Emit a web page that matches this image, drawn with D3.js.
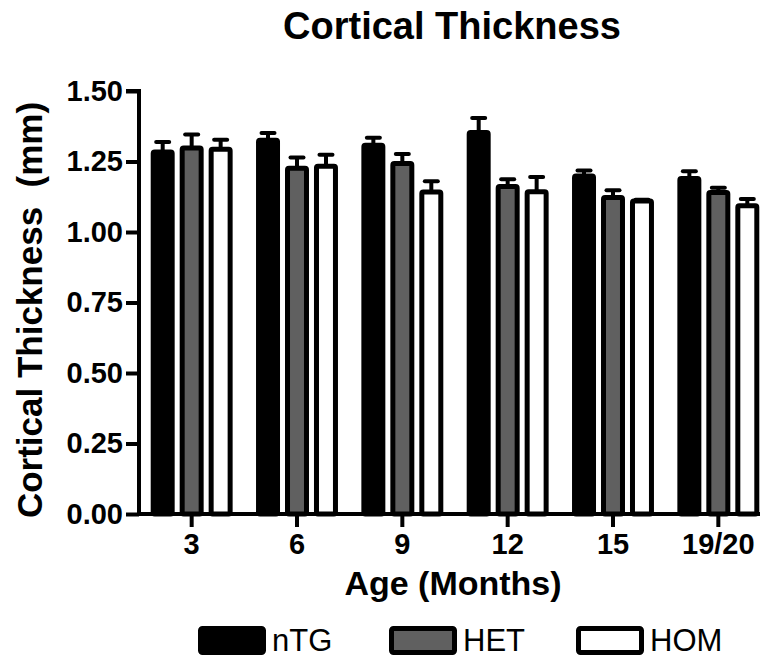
<!DOCTYPE html>
<html>
<head>
<meta charset="utf-8">
<script src="https://cdn.jsdelivr.net/npm/d3@7"></script>
<style>
  body { margin: 0; background: #fff; }
  svg { display: block; font-family: "Liberation Sans", Arial, sans-serif; }
</style>
</head>
<body>
<div id="chart"></div>
<script>
const ages = ["3", "6", "9", "12", "15", "19/20"];
const groups = ["nTG", "HET", "HOM"];
const nTG = [1.284, 1.325, 1.308, 1.353, 1.199, 1.19];
const HET = [1.298, 1.226, 1.243, 1.161, 1.122, 1.14];
const HOM = [1.293, 1.233, 1.142, 1.143, 1.11, 1.093];
const nTGErr = [0.035, 0.026, 0.026, 0.051, 0.019, 0.025];
const HETErr = [0.048, 0.038, 0.034, 0.026, 0.026, 0.017];
const HOMErr = [0.034, 0.041, 0.038, 0.052, 0.004, 0.024];
const yTicks = [0, 0.25, 0.5, 0.75, 1.0, 1.25, 1.5];

const values = { nTG: nTG, HET: HET, HOM: HOM };
const errors = { nTG: nTGErr, HET: HETErr, HOM: HOMErr };
const fills = { nTG: "#000", HET: "#606060", HOM: "#fff" };

const width = 760, height = 660;

const svg = d3.select("#chart")
  .append("svg")
  .attr("width", width)
  .attr("height", height);

const x0 = d3.scaleBand().domain(ages).range([139, 771]);
const x1 = d3.scaleBand()
  .domain(groups)
  .range([0, x0.bandwidth()])
  .paddingInner(0.345)
  .paddingOuter(0.49);

const y = d3.scaleLinear().domain([0, 1.5]).range([514, 91]);

// bars
const rows = [];
ages.forEach((a, i) => {
  groups.forEach((g) => {
    rows.push({ age: a, group: g, val: values[g][i], err: errors[g][i] });
  });
});

svg.selectAll(".bar")
  .data(rows)
  .enter()
  .append("rect")
  .attr("class", "bar")
  .attr("x", (d) => x0(d.age) + x1(d.group))
  .attr("y", (d) => y(d.val))
  .attr("width", x1.bandwidth())
  .attr("height", (d) => y(0) - y(d.val))
  .attr("rx", 1.5)
  .style("fill", (d) => fills[d.group])
  .style("stroke", "#000")
  .style("stroke-width", 5);

// error bars
const err = svg.selectAll(".err")
  .data(rows)
  .enter()
  .append("g")
  .attr("class", "err")
  .style("stroke", "#000")
  .style("stroke-width", 4);

err.append("line")
  .attr("x1", (d) => x0(d.age) + x1(d.group) + x1.bandwidth() / 2)
  .attr("x2", (d) => x0(d.age) + x1(d.group) + x1.bandwidth() / 2)
  .attr("y1", (d) => y(d.val))
  .attr("y2", (d) => y(d.val + d.err));

err.append("line")
  .attr("x1", (d) => x0(d.age) + x1(d.group) + x1.bandwidth() / 2 - 6.5)
  .attr("x2", (d) => x0(d.age) + x1(d.group) + x1.bandwidth() / 2 + 6.5)
  .attr("y1", (d) => y(d.val + d.err))
  .attr("y2", (d) => y(d.val + d.err))
  .style("stroke-linecap", "round");

// axes
const yAxis = svg.append("g")
  .attr("transform", "translate(139,0)")
  .call(d3.axisLeft(y).tickValues(yTicks).tickFormat(d3.format(".2f")).tickSize(13).tickPadding(3));

const xAxis = svg.append("g")
  .attr("transform", "translate(0,514)")
  .call(d3.axisBottom(x0).tickSize(13).tickPadding(6).tickSizeOuter(0));

[yAxis, xAxis].forEach((ax) => {
  ax.select(".domain").style("stroke", "#000").style("stroke-width", 4);
  ax.selectAll(".tick line").style("stroke", "#000").style("stroke-width", 4);
  ax.selectAll(".tick text")
    .style("font-family", "'Liberation Sans', Arial, sans-serif")
    .style("font-size", "29px")
    .style("font-weight", "bold")
    .style("fill", "#000");
});
yAxis.select(".domain").attr("d", "M-13,91H0V514");
xAxis.select(".domain").attr("d", "M137,0H771");

// titles
svg.append("text")
  .attr("x", 452)
  .attr("y", 39)
  .attr("text-anchor", "middle")
  .style("font-size", "38px")
  .style("font-weight", "bold")
  .text("Cortical Thickness");

svg.append("text")
  .attr("transform", "translate(42,310) rotate(-90)")
  .attr("text-anchor", "middle")
  .style("font-size", "35px")
  .style("font-weight", "bold")
  .style("white-space", "pre")
  .text("Cortical Thickness\u00a0 (mm)");

svg.append("text")
  .attr("x", 453)
  .attr("y", 595)
  .attr("text-anchor", "middle")
  .style("font-size", "34px")
  .style("font-weight", "bold")
  .text("Age (Months)");

// legend
const legendX = [198, 389, 576];
const legend = svg.selectAll(".legend")
  .data(groups)
  .enter()
  .append("g")
  .attr("class", "legend")
  .attr("transform", (d, i) => `translate(${legendX[i]},626)`);

legend.append("rect")
  .attr("x", 2.5)
  .attr("y", 2.5)
  .attr("width", 63)
  .attr("height", 24)
  .attr("rx", 2)
  .style("fill", (d) => fills[d])
  .style("stroke", "#000")
  .style("stroke-width", 5);

legend.append("text")
  .attr("x", 74)
  .attr("y", 25)
  .style("font-size", "31px")
  .text((d) => d);
</script>
</body>
</html>
